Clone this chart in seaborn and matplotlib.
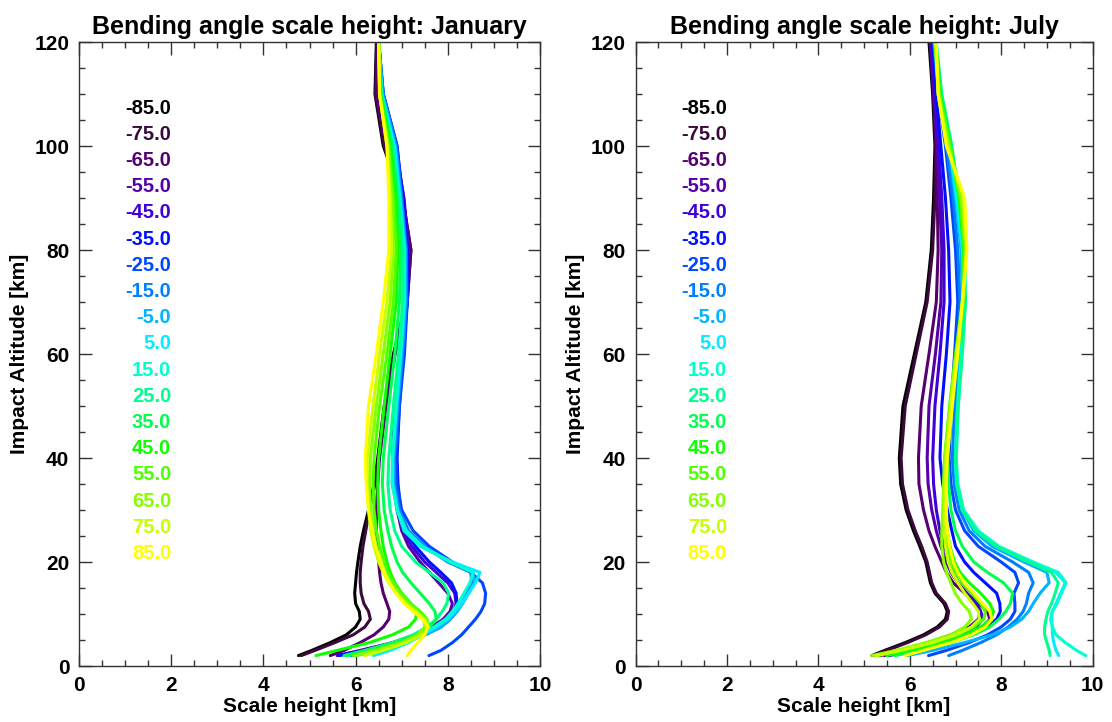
import numpy as np
import pandas as pd
import matplotlib
matplotlib.use("Agg")
import matplotlib.pyplot as plt
from matplotlib.ticker import MultipleLocator
import seaborn as sns

sns.set_style("ticks")
plt.rcParams["font.family"] = ["Liberation Sans", "DejaVu Sans"]
plt.rcParams["font.weight"] = "bold"
plt.rcParams["text.color"] = "black"
plt.rcParams["axes.labelcolor"] = "black"
plt.rcParams["xtick.labelcolor"] = "black"
plt.rcParams["ytick.labelcolor"] = "black"

# Latitude bands (deg) and their line colours
latitudes = [-85, -75, -65, -55, -45, -35, -25, -15, -5, 5, 15, 25, 35, 45, 55, 65, 75, 85]
lat_colors = ["#000000", "#3a0a3c", "#560070", "#5500a8", "#4000dc", "#0010ff",
              "#0048ff", "#0080ff", "#00b4ff", "#00eeff", "#00ffd0", "#00ff90",
              "#00ff50", "#10ff00", "#50ff00", "#88ff00", "#c8ff00", "#ffff00"]

# Impact altitude levels (km)
altitude = [2, 3, 4.5, 6, 7.5, 9, 10.5, 12, 14, 16, 18, 20, 23, 26, 30, 35, 40,
            50, 60, 70, 80, 90, 100, 110, 120]

# Bending angle scale height (km), January, one list per latitude band
jan_m85 = [4.76, 5.05, 5.45, 5.8, 6.0, 6.1, 6.08, 6.0, 5.98, 6.0, 6.02, 6.05, 6.1, 6.17, 6.28, 6.4, 6.48, 6.62, 6.82, 7.1, 7.18, 7.0, 6.6, 6.42, 6.45]
jan_m75 = [4.82, 5.12, 5.55, 5.95, 6.2, 6.32, 6.28, 6.18, 6.12, 6.1, 6.1, 6.12, 6.16, 6.22, 6.3, 6.42, 6.5, 6.64, 6.84, 7.12, 7.2, 7.02, 6.62, 6.43, 6.46]
jan_m65 = [5.45, 5.75, 6.1, 6.4, 6.6, 6.72, 6.74, 6.68, 6.6, 6.55, 6.52, 6.5, 6.47, 6.45, 6.45, 6.48, 6.52, 6.66, 6.86, 7.12, 7.2, 7.02, 6.65, 6.45, 6.47]
jan_m55 = [5.6, 6.1, 6.8, 7.3, 7.65, 7.9, 8.05, 8.1, 8.0, 7.8, 7.6, 7.4, 7.15, 7.0, 6.9, 6.82, 6.8, 6.85, 6.95, 7.1, 7.15, 7.05, 6.85, 6.55, 6.5]
jan_m45 = [5.62, 6.15, 6.85, 7.4, 7.75, 7.98, 8.12, 8.18, 8.15, 8.0, 7.75, 7.5, 7.22, 7.05, 6.95, 6.88, 6.86, 6.92, 7.0, 7.12, 7.14, 7.04, 6.88, 6.58, 6.5]
jan_m35 = [5.63, 6.2, 6.9, 7.5, 7.85, 8.05, 8.15, 8.2, 8.18, 8.08, 7.85, 7.6, 7.3, 7.1, 6.98, 6.92, 6.9, 6.95, 7.03, 7.12, 7.12, 7.02, 6.9, 6.6, 6.5]
jan_m25 = [7.59, 7.85, 8.1, 8.3, 8.45, 8.6, 8.72, 8.8, 8.82, 8.75, 8.5, 8.1, 7.6, 7.25, 7.0, 6.9, 6.88, 6.95, 7.06, 7.12, 7.1, 7.0, 6.9, 6.6, 6.5]
jan_m15 = [5.9, 6.4, 7.0, 7.5, 7.85, 8.05, 8.2, 8.3, 8.42, 8.52, 8.5, 8.0, 7.5, 7.15, 6.95, 6.85, 6.84, 6.92, 7.02, 7.1, 7.1, 7.0, 6.88, 6.6, 6.5]
jan_m05 = [6.0, 6.5, 7.05, 7.5, 7.85, 8.05, 8.2, 8.32, 8.45, 8.58, 8.55, 8.05, 7.45, 7.1, 6.92, 6.82, 6.82, 6.9, 7.0, 7.08, 7.08, 6.98, 6.86, 6.58, 6.5]
jan_p05 = [6.39, 6.75, 7.15, 7.45, 7.75, 8.0, 8.15, 8.3, 8.45, 8.6, 8.7, 8.1, 7.4, 7.05, 6.9, 6.79, 6.8, 6.88, 6.98, 7.06, 7.06, 6.96, 6.84, 6.57, 6.5]
jan_p15 = [5.8, 6.3, 6.9, 7.35, 7.7, 7.95, 8.1, 8.22, 8.35, 8.48, 8.55, 8.05, 7.45, 7.1, 6.9, 6.8, 6.8, 6.88, 6.97, 7.05, 7.05, 6.95, 6.82, 6.56, 6.5]
jan_p25 = [5.75, 6.2, 6.8, 7.25, 7.55, 7.75, 7.88, 7.98, 8.02, 7.9, 7.6, 7.3, 7.0, 6.85, 6.75, 6.7, 6.72, 6.82, 6.93, 7.02, 7.03, 6.93, 6.8, 6.56, 6.5]
jan_p35 = [5.8, 6.25, 6.85, 7.3, 7.6, 7.75, 7.72, 7.6, 7.4, 7.2, 7.02, 6.9, 6.78, 6.7, 6.62, 6.58, 6.6, 6.72, 6.85, 6.95, 6.98, 6.9, 6.78, 6.55, 6.5]
jan_p45 = [5.14, 5.6, 6.3, 6.8, 7.15, 7.3, 7.33, 7.2, 7.0, 6.85, 6.75, 6.68, 6.6, 6.55, 6.5, 6.48, 6.5, 6.62, 6.75, 6.88, 6.92, 6.86, 6.75, 6.54, 6.5]
jan_p55 = [5.95, 6.4, 7.0, 7.4, 7.58, 7.55, 7.4, 7.2, 6.98, 6.82, 6.7, 6.62, 6.52, 6.45, 6.4, 6.38, 6.4, 6.52, 6.68, 6.82, 6.88, 6.82, 6.72, 6.53, 6.5]
jan_p65 = [6.0, 6.45, 7.0, 7.35, 7.5, 7.48, 7.32, 7.12, 6.92, 6.75, 6.62, 6.55, 6.45, 6.38, 6.33, 6.3, 6.32, 6.45, 6.6, 6.75, 6.82, 6.78, 6.7, 6.52, 6.5]
jan_p75 = [6.2, 6.6, 7.1, 7.45, 7.58, 7.5, 7.3, 7.08, 6.88, 6.72, 6.6, 6.5, 6.4, 6.33, 6.28, 6.25, 6.25, 6.38, 6.52, 6.68, 6.78, 6.75, 6.68, 6.52, 6.5]
jan_p85 = [7.12, 7.2, 7.35, 7.5, 7.57, 7.45, 7.25, 7.05, 6.88, 6.73, 6.62, 6.55, 6.43, 6.36, 6.28, 6.23, 6.21, 6.28, 6.45, 6.6, 6.72, 6.72, 6.68, 6.52, 6.5]

# Bending angle scale height (km), July
jul_m85 = [5.17, 5.45, 5.9, 6.3, 6.6, 6.78, 6.82, 6.75, 6.55, 6.45, 6.4, 6.35, 6.22, 6.08, 5.92, 5.8, 5.77, 5.85, 6.1, 6.35, 6.47, 6.52, 6.55, 6.5, 6.42]
jul_m75 = [5.2, 5.5, 5.95, 6.35, 6.65, 6.82, 6.85, 6.78, 6.58, 6.48, 6.43, 6.38, 6.26, 6.12, 5.96, 5.84, 5.81, 5.9, 6.14, 6.38, 6.5, 6.55, 6.57, 6.52, 6.44]
jul_m65 = [5.35, 5.9, 6.6, 7.2, 7.6, 7.75, 7.7, 7.5, 7.2, 6.95, 6.8, 6.7, 6.55, 6.42, 6.3, 6.2, 6.19, 6.25, 6.42, 6.58, 6.62, 6.6, 6.58, 6.52, 6.45]
jul_m55 = [5.45, 5.85, 6.4, 6.9, 7.3, 7.5, 7.55, 7.45, 7.25, 7.05, 6.9, 6.8, 6.68, 6.58, 6.48, 6.4, 6.38, 6.42, 6.56, 6.68, 6.7, 6.65, 6.6, 6.53, 6.46]
jul_m45 = [5.5, 6.0, 6.6, 7.1, 7.45, 7.6, 7.55, 7.45, 7.35, 7.15, 7.0, 6.88, 6.75, 6.66, 6.58, 6.52, 6.5, 6.55, 6.66, 6.75, 6.75, 6.7, 6.63, 6.55, 6.48]
jul_m35 = [5.55, 6.1, 6.8, 7.3, 7.65, 7.9, 7.98, 7.97, 7.9, 7.65, 7.4, 7.2, 7.0, 6.92, 6.82, 6.72, 6.66, 6.7, 6.8, 6.88, 6.85, 6.78, 6.68, 6.58, 6.5]
jul_m25 = [6.41, 6.8, 7.3, 7.7, 8.0, 8.2, 8.3, 8.3, 8.28, 8.38, 8.3, 8.0, 7.5, 7.2, 7.0, 6.9, 6.86, 6.9, 6.98, 7.05, 7.0, 6.9, 6.78, 6.62, 6.52]
jul_m15 = [6.85, 7.15, 7.55, 7.9, 8.15, 8.35, 8.48, 8.55, 8.6, 8.7, 8.6, 8.25, 7.65, 7.3, 7.08, 6.97, 6.93, 6.98, 7.05, 7.1, 7.05, 6.95, 6.8, 6.63, 6.53]
jul_m05 = [5.95, 6.5, 7.2, 7.8, 8.2, 8.45, 8.6, 8.7, 8.85, 9.05, 9.0, 8.5, 7.8, 7.4, 7.15, 7.03, 7.0, 7.04, 7.1, 7.15, 7.12, 7.0, 6.85, 6.65, 6.55]
jul_p05 = [9.26, 9.2, 9.15, 9.12, 9.12, 9.1, 9.12, 9.2, 9.3, 9.4, 9.2, 8.6, 7.9, 7.45, 7.15, 7.02, 7.0, 7.05, 7.12, 7.18, 7.15, 7.02, 6.87, 6.67, 6.56]
jul_p15 = [9.85, 9.65, 9.4, 9.2, 9.12, 9.08, 9.12, 9.22, 9.32, 9.42, 9.25, 8.7, 7.95, 7.5, 7.18, 7.05, 7.02, 7.06, 7.13, 7.2, 7.18, 7.05, 6.9, 6.68, 6.57]
jul_p25 = [9.07, 9.05, 9.0, 8.95, 8.95, 8.98, 9.02, 9.1, 9.18, 9.25, 9.1, 8.6, 7.9, 7.45, 7.15, 7.03, 7.0, 7.06, 7.15, 7.22, 7.2, 7.08, 6.92, 6.7, 6.58]
jul_p35 = [5.68, 6.2, 6.9, 7.4, 7.75, 7.95, 8.1, 8.2, 8.25, 8.05, 7.7, 7.4, 7.15, 7.0, 6.9, 6.85, 6.83, 6.9, 7.05, 7.18, 7.2, 7.1, 6.9, 6.68, 6.56]
jul_p45 = [5.5, 6.0, 6.7, 7.2, 7.55, 7.78, 7.83, 7.75, 7.55, 7.3, 7.1, 6.98, 6.88, 6.82, 6.78, 6.76, 6.77, 6.88, 7.02, 7.15, 7.18, 7.08, 6.88, 6.66, 6.55]
jul_p55 = [5.3, 5.8, 6.5, 7.05, 7.4, 7.62, 7.65, 7.55, 7.35, 7.15, 7.0, 6.9, 6.82, 6.77, 6.74, 6.74, 6.76, 6.87, 7.0, 7.15, 7.2, 7.1, 6.88, 6.65, 6.55]
jul_p65 = [5.17, 5.7, 6.35, 6.9, 7.2, 7.35, 7.3, 7.15, 6.99, 6.9, 6.8, 6.74, 6.7, 6.7, 6.72, 6.74, 6.77, 6.88, 7.02, 7.17, 7.23, 7.12, 6.85, 6.63, 6.55]
jul_p75 = [5.25, 5.8, 6.5, 7.0, 7.35, 7.52, 7.5, 7.38, 7.2, 7.05, 6.92, 6.84, 6.78, 6.76, 6.76, 6.77, 6.8, 6.9, 7.03, 7.15, 7.24, 7.18, 6.82, 6.62, 6.57]
jul_p85 = [5.9, 6.3, 6.9, 7.35, 7.65, 7.8, 7.75, 7.6, 7.4, 7.2, 7.05, 6.95, 6.87, 6.82, 6.8, 6.8, 6.82, 6.93, 7.05, 7.15, 7.25, 7.2, 6.8, 6.62, 6.58]

january = [jan_m85, jan_m75, jan_m65, jan_m55, jan_m45, jan_m35, jan_m25, jan_m15, jan_m05,
           jan_p05, jan_p15, jan_p25, jan_p35, jan_p45, jan_p55, jan_p65, jan_p75, jan_p85]
july = [jul_m85, jul_m75, jul_m65, jul_m55, jul_m45, jul_m35, jul_m25, jul_m15, jul_m05,
        jul_p05, jul_p15, jul_p25, jul_p35, jul_p45, jul_p55, jul_p65, jul_p75, jul_p85]


def to_frame(profiles):
    rows = []
    for lat, prof in zip(latitudes, profiles):
        for z, h in zip(altitude, prof):
            rows.append({"lat": lat, "altitude": z, "scale_height": h})
    return pd.DataFrame(rows)


palette = dict(zip(latitudes, lat_colors))

W, H = 1112, 722
fig = plt.figure(figsize=(W / 100, H / 100), dpi=100)
ax_jan = fig.add_axes([79 / W, 1 - 666 / H, 461 / W, 624 / H])
ax_jul = fig.add_axes([635.6 / W, 1 - 666 / H, 457 / W, 624 / H])

for ax, profiles, month in [(ax_jan, january, "January"), (ax_jul, july, "July")]:
    df = to_frame(profiles)
    sns.lineplot(data=df, x="scale_height", y="altitude", hue="lat", palette=palette,
                 sort=False, estimator=None, orient="y", legend=False,
                 linewidth=2.2, ax=ax)
    ax.set_xlim(0, 10)
    ax.set_ylim(0, 120)
    ax.xaxis.set_major_locator(MultipleLocator(2))
    ax.xaxis.set_minor_locator(MultipleLocator(0.5))
    ax.yaxis.set_major_locator(MultipleLocator(20))
    ax.yaxis.set_minor_locator(MultipleLocator(5))
    ax.tick_params(which="both", direction="in", top=True, right=True, color="#333333",
                   width=1.0, labelsize=15, pad=7)
    ax.tick_params(which="major", length=9)
    ax.tick_params(which="minor", length=4.5)
    for lab in ax.get_xticklabels() + ax.get_yticklabels():
        lab.set_fontweight("bold")
    for sp in ax.spines.values():
        sp.set_visible(True)
        sp.set_color("#333333")
        sp.set_linewidth(1.0)
    ax.set_xlabel("Scale height [km]", fontsize=15, fontweight="bold", labelpad=2)
    ax.set_ylabel("Impact Altitude [km]", fontsize=15, fontweight="bold", labelpad=4)
    ax.set_title(f"Bending angle scale height: {month}", fontsize=18, fontweight="bold", pad=6)
    for i, (lat, col) in enumerate(zip(latitudes, lat_colors)):
        ax.text(2.0, 107.3 - 5.04 * i, f"{lat:.1f}", color=col, ha="right", va="center",
                fontsize=14.5, fontweight="bold")

fig.savefig("out.png", dpi=100, facecolor="white")
